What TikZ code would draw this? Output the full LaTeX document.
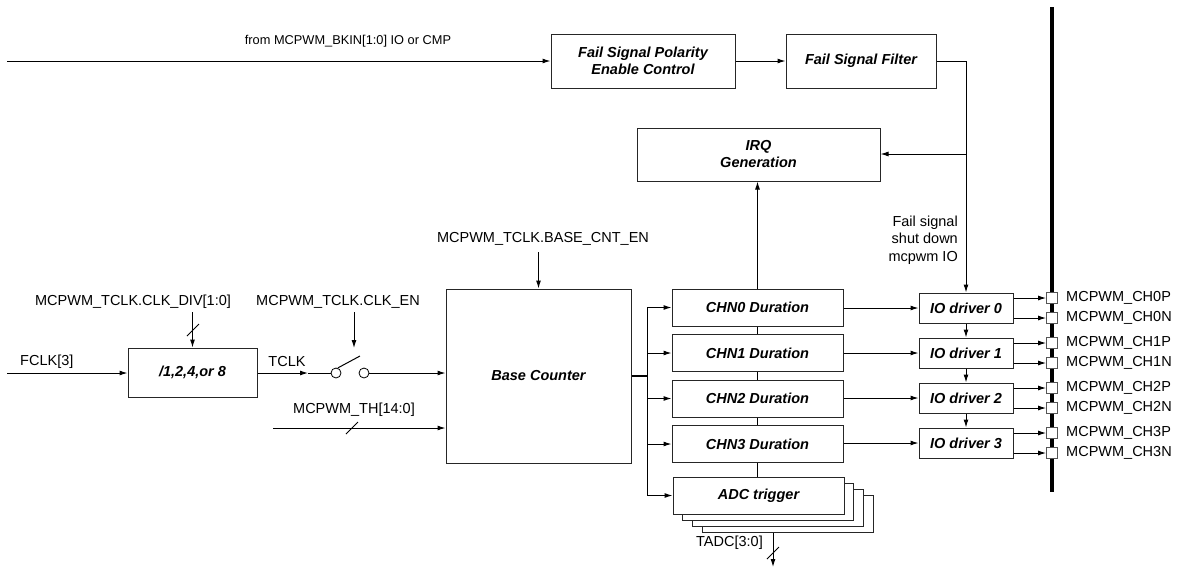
\documentclass[tikz,border=0pt]{standalone}
\usepackage{fontspec}
\setmainfont{Liberation Sans}
\usetikzlibrary{arrows.meta}
\definecolor{figLine}{HTML}{000000}
\definecolor{figBox}{HTML}{262626}
\definecolor{figPin}{HTML}{555555}
\tikzset{
  lbl/.style={font=\fontsize{14.5}{17}\selectfont,inner sep=0pt,align=center},
  blk/.style={draw=figBox,line width=1pt,fill=white,inner sep=0pt,align=center,
    font=\fontsize{14.5}{17}\selectfont\bfseries\itshape},
  wire/.style={figLine,line width=1pt},
  arr/.style={wire,-{Latex[length=8pt,width=5pt]}},
  pinbox/.style={draw=figPin,line width=0.8pt,fill=white,minimum size=11pt,inner sep=0pt},
  swcirc/.style={draw=figLine,line width=0.8pt,circle,minimum size=10pt,inner sep=0pt}
}
\begin{document}
\begin{tikzpicture}[x=1pt,y=-1pt]
    \useasboundingbox (0,0) rectangle (1181,574);
    % output bus
    \draw[line width=3.5pt] (1052,7) -- (1052,492);
    % fail signal path
    \coordinate (bkin) at (7,61);
    \node[blk,minimum width=184pt,minimum height=54pt] (pol) at (643,61) {Fail Signal Polarity\\Enable Control};
    \node[blk,minimum width=150pt,minimum height=54pt] (filt) at (861,61) {Fail Signal Filter};
    \node[blk,minimum width=243pt,minimum height=53pt] (irq) at (758.5,154.5) {IRQ\\Generation};
    \draw[arr] (bkin) -- (pol.west);
    \node[lbl,font=\fontsize{12.8}{15}\selectfont] (bkinlbl) at (348,41) {from MCPWM\_BKIN[1:0] IO or CMP};
    \draw[arr] (pol.east) -- (filt.west);
    % IO drivers
    \foreach \i in {0,1,2,3} {
      \node[blk,minimum width=94pt,minimum height=30pt] (io\i) at (966,{308+45*\i}) {IO driver \i};
    }
    \draw[arr] (filt.east) -| (io0.north);
    \coordinate (fs) at (966,154);
    \draw[arr] (fs) -- (fs -| irq.east);
    \node[lbl,anchor=east,align=right,font=\fontsize{14.5}{17.5}\selectfont] (fslbl) at (958,240) {Fail signal\\shut down\\mcpwm IO};
    \foreach \i [evaluate=\i as \j using int(\i+1)] in {0,1,2} {
      \draw[arr] (io\i.south) -- (io\j.north);
    }
    % pins on the bus
    \foreach \i in {0,1,2,3} {
      \node[pinbox] (p\i p) at (1052,{298+45*\i}) {};
      \node[pinbox] (p\i n) at (1052,{318+45*\i}) {};
      \draw[arr] (io\i.east |- p\i p) -- (p\i p.west);
      \draw[arr] (io\i.east |- p\i n) -- (p\i n.west);
      \node[lbl,anchor=west] at (1066,{298+45*\i}) {MCPWM\_CH\i P};
      \node[lbl,anchor=west] at (1066,{318+45*\i}) {MCPWM\_CH\i N};
    }
    % channel blocks
    \foreach \i in {0,1,2,3} {
      \node[blk,minimum width=171pt,minimum height=37pt] (chn\i) at (757.5,{307.5+45.5*\i}) {CHN\i{} Duration};
      \draw[arr] (chn\i.east |- io\i) -- (io\i.west);
    }
    % ADC trigger stack
    \node[blk,minimum width=171pt,minimum height=37pt] (adc3) at (787.5,513.5) {};
    \node[blk,minimum width=171pt,minimum height=37pt] (adc2) at (777.5,507.5) {};
    \node[blk,minimum width=171pt,minimum height=37pt] (adc1) at (768,501.5) {};
    \node[blk,minimum width=171pt,minimum height=37pt] (adc) at (758.5,495.5) {ADC trigger};
    \draw[wire] (chn0.south) -- (chn1.north);
    \draw[wire] (chn1.south) -- (chn2.north);
    \draw[wire] (chn2.south) -- (chn3.north);
    \draw[wire] (chn3.south) -- (chn3.south |- adc.north);
    \draw[arr] (chn0.north) -- (chn0.north |- irq.south);
    % TADC output
    \coordinate (tadc) at (773,567);
    \draw[arr] (tadc |- adc3.south) -- (tadc);
    \draw[wire] (773,553) ++(-6,6) -- ++(12,-12);
    \node[lbl,anchor=east] (tadclbl) at (763,543) {TADC[3:0]};
    % base counter and fan-out
    \node[blk,minimum width=185pt,minimum height=174pt] (base) at (538.5,376) {Base Counter};
    \coordinate (fan) at (647,376);
    \draw[line width=1.8pt] (base.east) -- (fan);
    \draw[wire] (fan |- chn0) -- (fan |- adc);
    \foreach \n in {chn0,chn1,chn2,chn3,adc} {
      \draw[arr] (fan |- \n) -- (\n.west);
    }
    \node[lbl] (cnten) at (543,239) {MCPWM\_TCLK.BASE\_CNT\_EN};
    \draw[arr] (base.north |- 0,252) -- (base.north);
    % clock divider
    \coordinate (fclk) at (7,373);
    \node[blk,minimum width=129pt,minimum height=49pt] (div) at (192.5,372.5) {/1,2,4,or 8};
    \draw[arr] (fclk) -- (fclk -| div.west);
    \node[lbl,anchor=west] (fclklbl) at (20,362) {FCLK[3]};
    \node[lbl] (clkdiv) at (133,302) {MCPWM\_TCLK.CLK\_DIV[1:0]};
    \draw[arr] (div.north |- 0,312) -- (div.north);
    \draw[wire] (193,330) ++(-6,6) -- ++(12,-12);
    % clock enable switch
    \node[swcirc] (sw1) at (336,373) {};
    \node[swcirc] (sw2) at (364,373) {};
    \coordinate (tclk) at (308,373);
    \draw[arr] (div.east |- tclk) -- (tclk);
    \draw[wire] (tclk) -- (sw1.west);
    \node[lbl] (tclklbl) at (287,362) {TCLK};
    \draw[wire] (sw1.70) -- (360,356);
    \node[lbl] (clken) at (338,302) {MCPWM\_TCLK.CLK\_EN};
    \draw[arr] (354,312) -- (354,348);
    \draw[arr] (sw2.east) -- (sw2 -| base.west);
    % threshold input
    \coordinate (th) at (273,428);
    \draw[arr] (th) -- (th -| base.west);
    \draw[wire] (352,428) ++(-6,6) -- ++(12,-12);
    \node[lbl] (thlbl) at (354,410) {MCPWM\_TH[14:0]};
\end{tikzpicture}
\end{document}
